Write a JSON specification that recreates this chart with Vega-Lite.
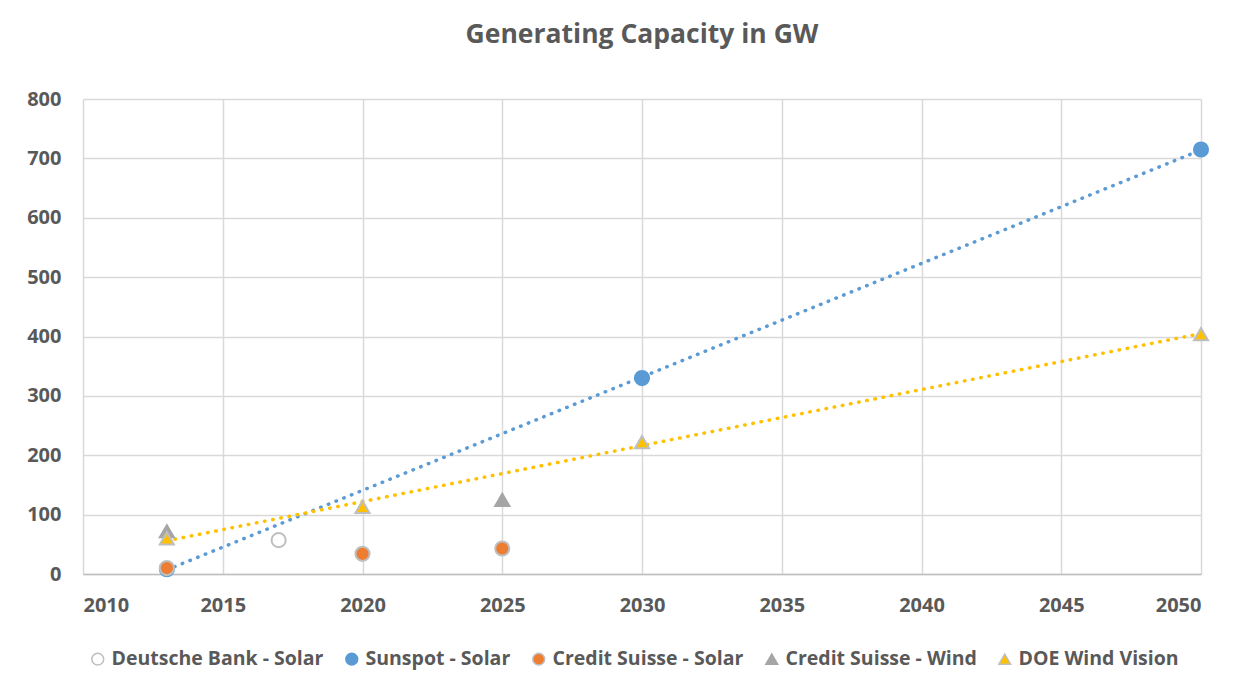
{
  "$schema": "https://vega.github.io/schema/vega-lite/v6.json",
  "autosize": "none",
  "width": 1118,
  "height": 475,
  "padding": {"left": 83, "top": 99, "right": 51, "bottom": 120},
  "background": "white",
  "config": {
    "font": "Open Sans",
    "view": {"stroke": null},
    "axis": {"labelFont": "Open Sans", "labelFontWeight": "bold", "labelColor": "#595959", "gridColor": "#d9d9d9", "gridWidth": 1.5, "ticks": false, "title": null}
  },
  "title": {"text": "Generating Capacity in GW", "fontSize": 26.5, "fontWeight": "bold", "color": "#595959", "font": "Open Sans", "offset": 41, "anchor": "middle"},
  "data": {"values": [
    {"series": "Deutsche Bank - Solar", "year": 2017, "value": 57},
    {"series": "Sunspot - Solar", "year": 2013, "value": 8},
    {"series": "Sunspot - Solar", "year": 2030, "value": 330},
    {"series": "Sunspot - Solar", "year": 2050, "value": 715},
    {"series": "Credit Suisse - Solar", "year": 2013, "value": 10},
    {"series": "Credit Suisse - Solar", "year": 2020, "value": 34},
    {"series": "Credit Suisse - Solar", "year": 2025, "value": 43},
    {"series": "Credit Suisse - Wind", "year": 2013, "value": 72},
    {"series": "Credit Suisse - Wind", "year": 2025, "value": 125},
    {"series": "DOE Wind Vision", "year": 2013, "value": 60},
    {"series": "DOE Wind Vision", "year": 2020, "value": 113},
    {"series": "DOE Wind Vision", "year": 2030, "value": 222},
    {"series": "DOE Wind Vision", "year": 2050, "value": 404}
  ]},
  "encoding": {
    "x": {"field": "year", "type": "quantitative", "scale": {"domain": [2010, 2050], "nice": false, "zero": false},
      "axis": {"values": [2010, 2015, 2020, 2025, 2030, 2035, 2040, 2045, 2050], "format": "d", "labelFontSize": 20, "labelPadding": 21, "domainColor": "#bfbfbf", "domainWidth": 1.5}},
    "y": {"field": "value", "type": "quantitative", "scale": {"domain": [0, 800], "nice": false},
      "axis": {"values": [0, 100, 200, 300, 400, 500, 600, 700, 800], "labelFontSize": 20, "labelPadding": 22, "domain": false}}
  },
  "layer": [
    {
      "transform": [
        {"filter": "datum.series === 'Sunspot - Solar'"},
        {"regression": "value", "on": "year", "extent": [2013, 2050]}
      ],
      "mark": {"type": "line", "stroke": "#5b9bd5", "strokeWidth": 3.5, "strokeDash": [0.5, 7.8], "strokeCap": "round"},
      "encoding": {}
    },
    {
      "transform": [
        {"filter": "datum.series === 'DOE Wind Vision'"},
        {"regression": "value", "on": "year", "extent": [2013, 2050]}
      ],
      "mark": {"type": "line", "stroke": "#ffc000", "strokeWidth": 3.5, "strokeDash": [0.5, 7.8], "strokeCap": "round"},
      "encoding": {}
    },
    {
      "mark": {"type": "point", "filled": true, "size": 200, "strokeWidth": 2, "opacity": 1},
      "encoding": {
        "shape": {"field": "series", "type": "nominal",
          "scale": {"domain": ["Deutsche Bank - Solar", "Sunspot - Solar", "Credit Suisse - Solar", "Credit Suisse - Wind", "DOE Wind Vision"], "range": ["circle", "circle", "circle", "triangle-up", "triangle-up"]},
          "legend": {"title": null, "orient": "none", "legendX": 5, "legendY": 550, "direction": "horizontal", "labelFontSize": 19.5, "labelFontWeight": "bold", "labelColor": "#595959", "labelFont": "Open Sans", "symbolSize": 140, "columnPadding": 18, "labelLimit": 400, "labelOffset": 4}},
        "fill": {"field": "series", "type": "nominal",
          "scale": {"domain": ["Deutsche Bank - Solar", "Sunspot - Solar", "Credit Suisse - Solar", "Credit Suisse - Wind", "DOE Wind Vision"], "range": ["#ffffff", "#5b9bd5", "#ed7d31", "#a5a5a5", "#ffc000"]},
          "legend": {"title": null, "orient": "none", "legendX": 5, "legendY": 550, "direction": "horizontal", "labelFontSize": 19.5, "labelFontWeight": "bold", "labelColor": "#595959", "labelFont": "Open Sans", "symbolSize": 140, "columnPadding": 18, "labelLimit": 400, "labelOffset": 4}},
        "stroke": {"field": "series", "type": "nominal",
          "scale": {"domain": ["Deutsche Bank - Solar", "Sunspot - Solar", "Credit Suisse - Solar", "Credit Suisse - Wind", "DOE Wind Vision"], "range": ["#bfbfbf", "#5b9bd5", "#bfbfbf", "#a5a5a5", "#bfbfbf"]},
          "legend": {"title": null, "orient": "none", "legendX": 5, "legendY": 550, "direction": "horizontal", "labelFontSize": 19.5, "labelFontWeight": "bold", "labelColor": "#595959", "labelFont": "Open Sans", "symbolSize": 140, "columnPadding": 18, "labelLimit": 400, "labelOffset": 4}}
      }
    }
  ]
}
